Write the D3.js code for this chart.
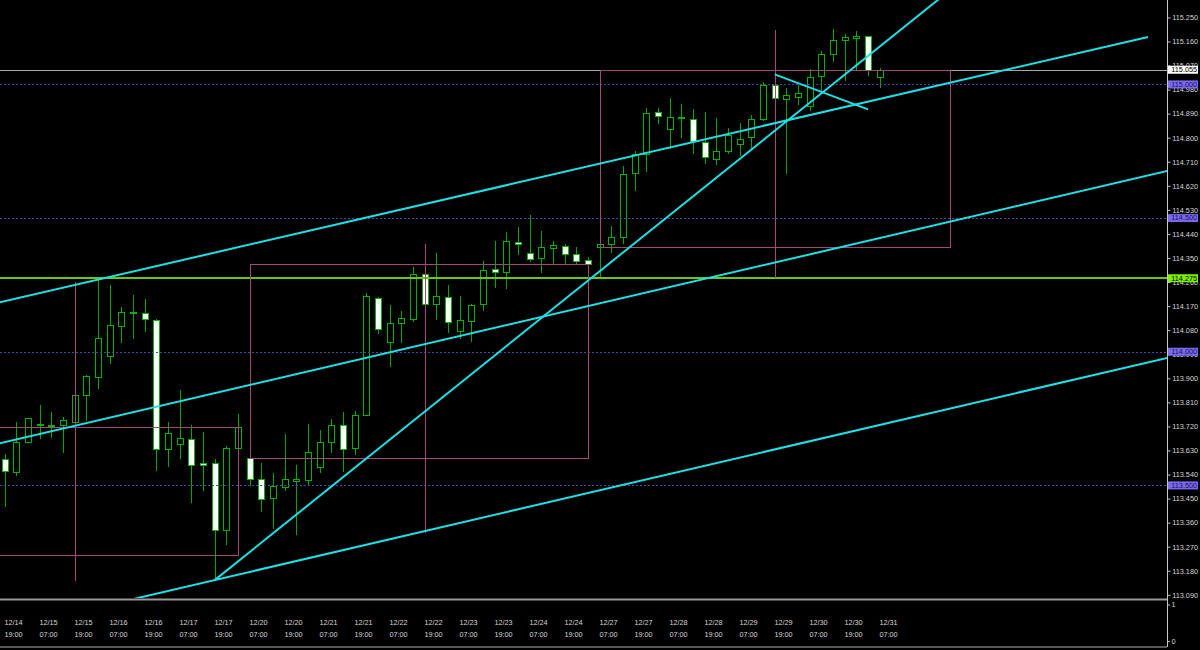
<!DOCTYPE html>
<html><head><meta charset="utf-8">
<script src="https://cdn.jsdelivr.net/npm/d3@7"></script>
<style>html,body{margin:0;padding:0;background:#000;overflow:hidden}</style>
</head><body><svg id="c" width="1200" height="650"></svg>
<script>
// ---- data ----
const opens  = [113.597,113.548,113.663,113.725,113.726,113.725,113.737,113.837,113.906,113.984,114.097,114.148,114.143,114.119,113.634,113.655,113.674,113.582,113.584,113.332,113.638,113.601,113.522,113.451,113.493,113.517,113.518,113.567,113.663,113.726,113.638,113.764,114.200,114.037,114.108,114.122,114.290,114.177,114.203,114.076,114.115,114.177,114.308,114.299,114.411,114.367,114.351,114.386,114.396,114.364,114.341,114.390,114.402,114.427,114.667,114.739,114.895,114.831,114.879,114.870,114.783,114.721,114.751,114.775,114.801,114.871,114.996,114.945,114.953,114.917,115.030,115.112,115.164,115.172,115.180,115.026];
const highs  = [113.616,113.738,113.752,113.800,113.773,113.754,113.864,113.912,114.268,114.249,114.168,114.211,114.195,114.121,113.738,113.856,113.724,113.698,113.597,113.648,113.766,113.620,113.583,113.547,113.692,113.576,113.729,113.705,113.746,113.773,113.778,114.218,114.205,114.174,114.150,114.316,114.310,114.369,114.248,114.209,114.177,114.338,114.414,114.447,114.467,114.511,114.451,114.414,114.401,114.390,114.355,114.467,114.470,114.694,114.749,114.910,114.910,114.950,114.926,114.906,114.895,114.873,114.835,114.856,114.885,115.008,115.034,114.985,114.997,115.057,115.124,115.205,115.187,115.198,115.181,115.062];
const lows   = [113.423,113.538,113.661,113.675,113.681,113.625,113.721,113.744,113.862,113.956,114.037,114.050,114.077,113.557,113.573,113.603,113.436,113.482,113.145,113.280,113.594,113.501,113.405,113.341,113.482,113.319,113.503,113.550,113.625,113.554,113.616,113.762,114.068,113.947,114.036,114.115,114.158,114.121,114.074,114.050,114.038,114.155,114.243,114.239,114.364,114.339,114.299,114.332,114.330,114.327,114.312,114.279,114.373,114.407,114.604,114.677,114.856,114.760,114.804,114.744,114.706,114.702,114.744,114.735,114.757,114.866,114.825,114.667,114.926,114.904,114.978,115.088,115.016,115.053,115.034,114.991];
const closes = [113.554,113.660,113.750,113.728,113.727,113.743,113.838,113.907,114.051,114.098,114.149,114.144,114.122,113.634,113.696,113.675,113.574,113.576,113.332,113.638,113.718,113.522,113.447,113.496,113.524,113.522,113.623,113.663,113.726,113.635,113.761,114.209,114.083,114.106,114.124,114.291,114.177,114.209,114.112,114.117,114.173,114.304,114.299,114.415,114.401,114.347,114.392,114.397,114.365,114.340,114.326,114.402,114.427,114.665,114.739,114.891,114.881,114.877,114.874,114.788,114.727,114.750,114.810,114.794,114.870,114.996,114.948,114.959,114.968,115.028,115.112,115.164,115.176,115.180,115.052,115.055];

const dateLabels = ["12/14","12/15","12/15","12/16","12/16","12/17","12/17","12/20","12/20","12/21","12/21","12/22","12/22","12/23","12/23","12/24","12/24","12/27","12/27","12/28","12/28","12/29","12/29","12/30","12/30","12/31"];
const timeLabels = ["19:00","07:00","19:00","07:00","19:00","07:00","19:00","07:00","19:00","07:00","19:00","07:00","19:00","07:00","19:00","07:00","19:00","07:00","19:00","07:00","19:00","07:00","19:00","07:00","19:00","07:00"];
const priceTicks = ["115.250","115.160","115.070","114.980","114.890","114.800","114.710","114.620","114.530","114.440","114.350","114.260","114.170","114.080","113.990","113.900","113.810","113.720","113.630","113.540","113.450","113.360","113.270","113.180","113.090"];

const dashedLevels = [115.000, 114.500, 114.000, 113.500];
const greenLevel = 114.275;
const bidPrice = 115.055;

// trend lines: [barIndex, price] pairs
const trendA = [[-5,114.138],[98,115.177]];
const trendB = [[-5,113.610],[100,114.679]];
const trendD = [[-5,112.911],[100,113.980]];
const trendE = [[18,113.145],[82,115.386]];
const trendF = [[66,115.037],[74,114.906]];
const trendLines = [trendA, trendB, trendD, trendE, trendF];

// rectangles: [startBar, endBar, topPrice, bottomPrice]
const boxes = [[-3,20,113.719,113.239],[21,50,114.326,113.601],[51,81,115.052,114.390]];
// vertical stems: [bar, topPrice, bottomPrice]
const stems = [[6,114.261,113.142],[36,114.402,113.322],[66,115.203,114.275]];
const subLabels = [1, 0];

// ---- drawing ----
const W = 1200, H = 650, plotR = 1167, plotB = 598;
const svg = d3.select("#c");
svg.append("rect").attr("width",W).attr("height",H).attr("fill","#000");

const x = d3.scaleLinear().domain([0,100]).range([4.7, 4.7+1166.7]);
const y = d3.scaleLinear().domain([113.09,115.25]).range([594.8,17.4]);
const ySub = d3.scaleLinear().domain([0,1]).range([641.7,605]);

const FONT = "'Liberation Sans', Arial, sans-serif";
const FS = 7.3;

svg.append("clipPath").attr("id","plot").append("rect").attr("x",0).attr("y",0).attr("width",plotR).attr("height",plotB);
const g = svg.append("g").attr("clip-path","url(#plot)");

// candles
const candles = opens.map((o,i)=>({i,o,h:highs[i],l:lows[i],c:closes[i]}));
const cg = g.append("g").attr("shape-rendering","crispEdges");
const WICK = "#00a800";
cg.selectAll("line.w").data(candles).join("line").attr("class","w")
  .attr("x1",d=>Math.round(x(d.i))+0.5).attr("x2",d=>Math.round(x(d.i))+0.5)
  .attr("y1",d=>Math.round(y(d.h))).attr("y2",d=>Math.round(y(d.l))+1)
  .attr("stroke",WICK).attr("stroke-width",1);
cg.selectAll("rect.b").data(candles).join("rect").attr("class","b")
  .attr("x",d=>Math.round(x(d.i))-2.5).attr("width",6)
  .attr("y",d=>Math.round(y(Math.max(d.o,d.c)))+0.5)
  .attr("height",d=>Math.max(Math.round(y(Math.min(d.o,d.c)))-Math.round(y(Math.max(d.o,d.c))),1))
  .attr("fill",d=>d.c>=d.o?"#000":"#fff")
  .attr("stroke","#00b400").attr("stroke-width",1);

// horizontal levels
const og = g.append("g");
og.selectAll("line.dl").data(dashedLevels).join("line").attr("class","dl")
  .attr("x1",0).attr("x2",plotR).attr("y1",d=>Math.round(y(d))+0.5).attr("y2",d=>Math.round(y(d))+0.5)
  .attr("stroke","#4646a8").attr("stroke-width",1).attr("stroke-dasharray","2,2");
og.append("line").attr("x1",0).attr("x2",plotR).attr("y1",y(greenLevel)).attr("y2",y(greenLevel))
  .attr("stroke","#6cc800").attr("stroke-width",2);
og.append("line").attr("x1",0).attr("x2",plotR).attr("y1",Math.round(y(bidPrice))+0.5).attr("y2",Math.round(y(bidPrice))+0.5)
  .attr("stroke","#a8a8b0").attr("stroke-width",1);

// rectangles and stems
const PINK = "#a3487a";
og.selectAll("rect.bx").data(boxes).join("rect").attr("class","bx")
  .attr("x",d=>Math.round(x(d[0]))+0.5).attr("y",d=>Math.round(y(d[2]))+0.5)
  .attr("width",d=>Math.round(x(d[1]))-Math.round(x(d[0])))
  .attr("height",d=>Math.round(y(d[3]))-Math.round(y(d[2])))
  .attr("fill","none").attr("stroke",PINK).attr("stroke-width",1).attr("shape-rendering","crispEdges");
og.selectAll("line.st").data(stems).join("line").attr("class","st")
  .attr("x1",d=>Math.round(x(d[0]))+0.5).attr("x2",d=>Math.round(x(d[0]))+0.5)
  .attr("y1",d=>y(d[1])).attr("y2",d=>y(d[2]))
  .attr("stroke",PINK).attr("stroke-width",1).attr("shape-rendering","crispEdges");

// trend lines
const lineGen = d3.line().x(d=>x(d[0])).y(d=>y(d[1]));
og.selectAll("path.tl").data(trendLines).join("path").attr("class","tl")
  .attr("d",lineGen).attr("fill","none").attr("stroke","#1ee0e6").attr("stroke-width",2);

// separators
svg.append("rect").attr("x",0).attr("y",598.5).attr("width",plotR).attr("height",2).attr("fill","#9a9a9a");
svg.append("rect").attr("x",0).attr("y",646.5).attr("width",plotR).attr("height",1).attr("fill","#b0b0b0");

// price axis
const yAxis = d3.axisRight(y).tickValues(priceTicks.map(Number)).tickFormat((d,i)=>priceTicks[i])
  .tickSize(3).tickSizeOuter(0).tickPadding(1.7);
const ax = svg.append("g").attr("transform","translate(1167.5,0)").call(yAxis);
ax.select(".domain").remove();
ax.selectAll(".tick line").attr("stroke","#c0c0c0");
ax.selectAll(".tick text").attr("fill","#d4d4d4").attr("font-size",FS).attr("font-family",FONT);
svg.append("line").attr("x1",1167.5).attr("x2",1167.5).attr("y1",0).attr("y2",647)
  .attr("stroke","#c8c8c8").attr("stroke-width",1);

// price labels
function priceBox(p, bg, fg){
  const yy = y(p);
  svg.append("rect").attr("x",1168).attr("y",yy-3.8).attr("width",30).attr("height",8).attr("fill",bg);
  svg.append("text").attr("x",1171.3).attr("y",yy).attr("dy","0.34em").attr("fill",fg)
    .attr("font-size",FS).attr("font-family",FONT).text(d3.format(".3f")(p));
}
dashedLevels.forEach(p=>priceBox(p,"#7b68ee","#14145a"));
priceBox(greenLevel,"#7cf000","#000");
priceBox(bidPrice,"#ffffff","#000");

// sub window labels
svg.selectAll("text.sub").data(subLabels).join("text").attr("class","sub")
  .attr("x",1171.5).attr("y",d=>ySub(d)).attr("dy","0.34em").attr("fill","#d4d4d4")
  .attr("font-size",FS).attr("font-family",FONT).text(d=>d);
svg.selectAll("line.subt").data(subLabels).join("line").attr("class","subt")
  .attr("x1",1167.5).attr("x2",1170).attr("y1",d=>ySub(d)).attr("y2",d=>ySub(d)).attr("stroke","#c0c0c0");

// time labels
const tl = svg.append("g").attr("font-size",FS).attr("font-family",FONT).attr("fill","#d4d4d4");
tl.selectAll("text.d").data(dateLabels).join("text").attr("class","d")
  .attr("x",(d,j)=>x(3*j)-0.3).attr("y",622.3).attr("dy","0.34em").text(d=>d);
tl.selectAll("text.t").data(timeLabels).join("text").attr("class","t")
  .attr("x",(d,j)=>x(3*j)-0.3).attr("y",635).attr("dy","0.34em").text(d=>d);
</script>
</body></html>
